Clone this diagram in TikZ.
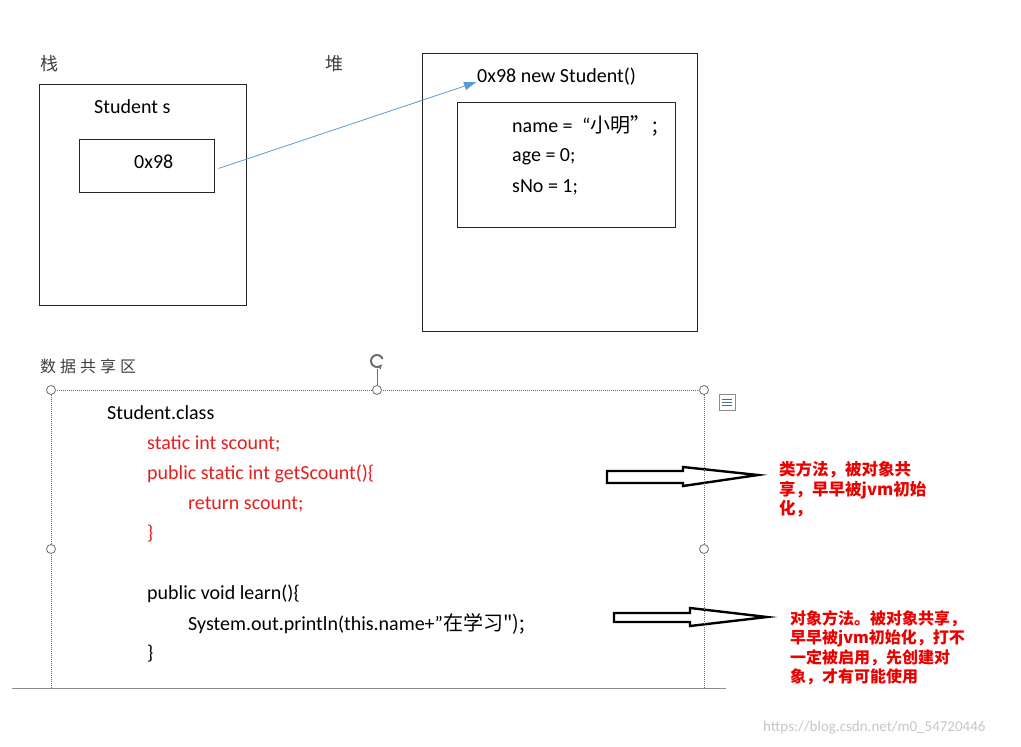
\documentclass[tikz,border=0pt]{standalone}
\usepackage{fontspec}
\setmainfont{Carlito}
\newfontfamily\cjk{Noto Sans CJK SC}
\newfontfamily\cjkwide[LetterSpace=25]{Noto Sans CJK SC}
\usetikzlibrary{positioning, arrows.meta}
\definecolor{ptrblue}{RGB}{91, 155, 213}
\definecolor{codered}{RGB}{232, 30, 30}
\definecolor{notered}{RGB}{235, 0, 0}
\definecolor{selgray}{RGB}{110, 110, 110}
\tikzset{
  mem/.style={rectangle, draw=black!85, line width=0.9pt, inner sep=0pt},
  code/.style={anchor=west, inner sep=0pt, font=\fontsize{20}{24}\selectfont},
  hot/.style={code, text=codered},
  area/.style={anchor=west, inner sep=0pt, text=black!75},
  note/.style={anchor=north west, inner sep=0pt, align=left, text=notered},
  handle/.style={circle, draw=selgray, fill=white, line width=0.8pt, minimum size=9pt, inner sep=0pt},
  sel/.style={selgray, line width=0.9pt, dash pattern=on 1pt off 1pt},
  hollow/.style={draw=black, line width=2.4pt, fill=white, line join=miter},
  ptr/.style={-{Latex[length=13pt, width=9pt]}, ptrblue, line width=0.8pt},
}
\begin{document}
\begin{tikzpicture}[x=1pt, y=-1pt]
  \useasboundingbox[fill=white] (0,0) rectangle (1021,747);
  % stack
  \node[area, font=\cjk\fontsize{18}{20}\selectfont] (stk) at (40,64) {栈};
  \node[mem, minimum width=207pt, minimum height=221pt] (stack) at (142.5,194.5) {};
  \node[code] (var) at (94,107) {Student s};
  \node[mem, minimum width=135pt, minimum height=53pt] (addr) at (146.5,165.5) {};
  \node[code] (addrtxt) at (134,162) {0x98};
  % heap
  \node[area, font=\cjk\fontsize{18}{20}\selectfont] (hp) at (325,64) {堆};
  \node[mem, minimum width=275pt, minimum height=278pt] (heap) at (559.5,192) {};
  \node[code] (obj) at (477,77) {0x98 new Student()};
  \node[mem, minimum width=218pt, minimum height=125pt] (fields) at (566,164.5) {};
  \node[code] (fname) at (512,126) {name = \hspace{5pt}“\cjk{小明}”\hspace{2pt};};
  \node[code] (fage) at (512,157) {age = 0;};
  \node[code] (fsno) at (512,187) {sNo = 1;};
  \draw[ptr] ([xshift=4pt, yshift=-3pt]addr.east) -- ([yshift=4pt]obj.south west);
  % shared area
  \node[area, font=\cjkwide\fontsize{16}{20}\selectfont] (shr) at (40,366) {数据共享区};
  \node[code] (cls) at (107,413) {Student.class};
  \node[hot] (c1) at (147,444) {static int scount;};
  \node[hot] (c2) at (147,474) {public static int getScount()\{};
  \node[hot] (c3) at (188,504) {return scount;};
  \node[hot] (c4) at (147,534) {\}};
  \node[code] (c5) at (147,594) {public void learn()\{};
  \node[code] (c6) at (188,624) {System.out.println(this.name+\char34\cjk{在学习}\char34);};
  \node[code] (c7) at (147,654) {\}};
  % hollow arrows and notes
  \draw[hollow] (607,471) -- (683,471) -- (683,467) -- (758,475) -- (683,486) -- (683,483) -- (607,483) -- cycle;
  \draw[hollow] (614,613) -- (690,613) -- (690,608) -- (767,617) -- (690,626) -- (690,622) -- (614,622) -- cycle;
  \node[note, font=\cjk\bfseries\fontsize{16.5}{19.5}\selectfont] (n1) at (779,461)
    {类方法，被对象共\\享，早早被jvm初始\\化，};
  \node[note, font=\cjk\bfseries\fontsize{16}{19.5}\selectfont] (n2) at (790,610)
    {对象方法。被对象共享，\\早早被jvm初始化，打不\\一定被启用，先创建对\\象，才有可能使用};
  % selection frame
  \draw[sel] (51,688) -- (51,390) -- (704,390) -- (704,688);
  \draw[black!45, line width=0.9pt] (12,688) -- (726,688);
  \node[handle] (h1) at (51,390) {};
  \node[handle] (h2) at (377,390) {};
  \node[handle] (h3) at (704,390) {};
  \node[handle] (h4) at (51,549) {};
  \node[handle] (h5) at (704,549) {};
  \node[circle, inner sep=0pt, minimum size=16pt] (rot) at (377,361) {};
  \draw[selgray, line width=0.8pt] (rot) -- (h2);
  \draw[selgray, line width=2pt, -{Latex[length=4pt, width=5pt]}] ([shift={(20:6pt)}]rot.center) arc[start angle=20, end angle=320, radius=6pt];
  \node[rectangle, draw=black!45, minimum width=16pt, minimum height=16pt, inner sep=0pt] (lay) at (727,402) {};
  \draw[ptrblue!70!black, line width=1pt] ([xshift=-5pt, yshift=3pt]lay.center) -- ([xshift=5pt, yshift=3pt]lay.center);
  \draw[ptrblue!70!black, line width=1pt] ([xshift=-5pt]lay.center) -- ([xshift=5pt]lay.center);
  \draw[ptrblue!70!black, line width=1pt] ([xshift=-5pt, yshift=-3pt]lay.center) -- ([xshift=5pt, yshift=-3pt]lay.center);
  \node[anchor=west, inner sep=0pt, text=black!22, font=\fontsize{15}{18}\selectfont] (wm) at (763,728) {https://blog.csdn.net/m0\_54720446};
\end{tikzpicture}
\end{document}
